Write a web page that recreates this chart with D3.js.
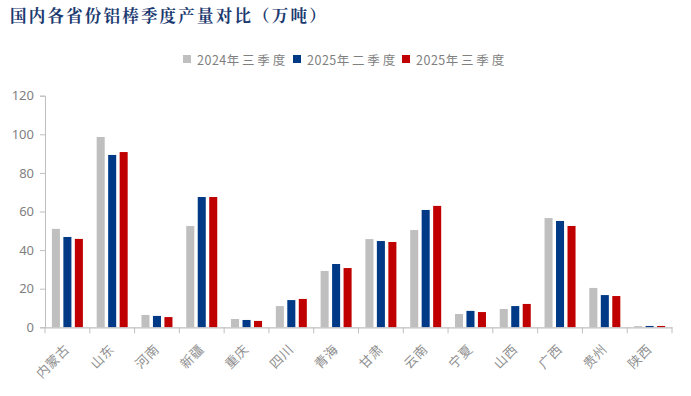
<!DOCTYPE html>
<html><head><meta charset="utf-8">
<script src="https://cdn.jsdelivr.net/npm/d3@7"></script>
<style>body{margin:0;background:#fff;}svg{display:block;}</style>
</head><body>
<svg id="c" width="691" height="396"></svg>
<script>
const categories = ["内蒙古","山东","河南","新疆","重庆","四川","青海","甘肃","云南","宁夏","山西","广西","贵州","陕西"];
const seriesNames = ["2024年三季度","2025年二季度","2025年三季度"];
const q3_2024 = [51, 98.6, 6.4, 52.5, 4.3, 11, 29.2, 45.7, 50.4, 6.9, 9.5, 56.6, 20.4, 0.6];
const q2_2025 = [46.8, 89.3, 5.9, 67.5, 3.8, 14.1, 32.8, 44.7, 60.8, 8.5, 11, 55.1, 16.7, 0.7];
const q3_2025 = [45.8, 90.8, 5.3, 67.5, 3.3, 14.7, 30.7, 44.2, 62.9, 7.9, 12.1, 52.5, 16.2, 0.7];
const yTicks = [0, 20, 40, 60, 80, 100, 120];
const colors = ["#BFBFBF", "#003A87", "#C00000"];
const series = [q3_2024, q2_2025, q3_2025];

const svg = d3.select("#c");
const font = "'Noto Sans CJK SC', 'Noto Sans', sans-serif";
const L = 45, R = 672, T = 95.7, B = 327.3;

svg.append("text").attr("x", 10).attr("y", 21.5)
  .attr("font-family", "'Noto Serif CJK SC', 'Noto Sans CJK SC', serif")
  .attr("font-weight", "bold").attr("font-size", 16.5).attr("fill", "#1B3A70")
  .attr("letter-spacing", 2.2)
  .text("国内各省份铝棒季度产量对比（万吨）");

const x = d3.scaleBand().domain(categories).range([L, R]).paddingInner(0).paddingOuter(0);
const xs = d3.scaleBand().domain(d3.range(3)).range([0, x.bandwidth()]).paddingInner(0.3).paddingOuter(0.6);
const y = d3.scaleLinear().domain([0, 120]).range([B, T]);

// legend
const legX = [183, 293, 402];
const leg = svg.append("g");
seriesNames.forEach((n, i) => {
  leg.append("rect").attr("x", legX[i]).attr("y", 55).attr("width", 8).attr("height", 8).attr("fill", colors[i]);
  const t = leg.append("text").attr("x", legX[i] + 14).attr("y", 65)
    .attr("font-family", font).attr("font-size", 12.5).attr("fill", "#7f7f7f");
  t.append("tspan").attr("letter-spacing", 0.5).text(n.slice(0, 4));
  t.append("tspan").attr("letter-spacing", 2.8).text(n.slice(4));
});

// bars
series.forEach((vals, si) => {
  svg.append("g").selectAll("rect").data(vals).join("rect")
    .attr("x", (d, i) => x(categories[i]) + xs(si))
    .attr("width", xs.bandwidth())
    .attr("y", d => y(d))
    .attr("height", d => y(0) - y(d))
    .attr("fill", colors[si]);
});

// y axis
const ya = svg.append("g").attr("transform", `translate(${L},0)`)
  .call(d3.axisLeft(y).tickValues(yTicks).tickSize(5).tickPadding(6));
ya.select(".domain").attr("stroke", "#BFBFBF");
ya.selectAll(".tick line").attr("stroke", "#BFBFBF");
ya.selectAll(".tick text").attr("font-family", "'Noto Sans', sans-serif").attr("font-size", 13).attr("fill", "#7f7f7f");

// x axis
const xa = svg.append("g").attr("transform", `translate(0,${B})`)
  .call(d3.axisBottom(x).tickSize(0).tickFormat(""));
xa.select(".domain").attr("stroke", "#BFBFBF").attr("stroke-width", 1.3);
xa.selectAll(".tick").remove();
const edges = categories.map(c => x(c)).concat([R]);
svg.append("g").selectAll("line").data(edges).join("line")
  .attr("x1", d => d).attr("x2", d => d).attr("y1", B).attr("y2", B + 6)
  .attr("stroke", "#BFBFBF");
svg.append("g").selectAll("text").data(categories).join("text")
  .attr("transform", d => `translate(${x(d) + x.bandwidth() / 2 + 3},${B + 23}) rotate(-45)`)
  .attr("text-anchor", "end")
  .attr("font-family", font).attr("font-size", 13).attr("fill", "#8f8f8f")
  .attr("letter-spacing", 0.5)
  .text(d => d);
</script>
</body></html>
